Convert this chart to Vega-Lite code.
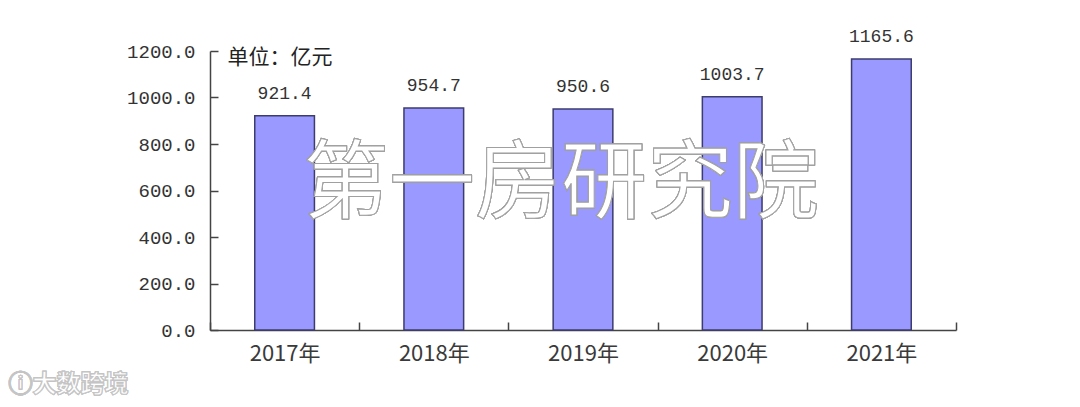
{
  "$schema": "https://vega.github.io/schema/vega-lite/v6.json",
  "width": 746,
  "height": 279,
  "autosize": {"type": "none"},
  "padding": {"left": 210, "top": 51, "right": 124, "bottom": 77},
  "background": "white",
  "config": {"view": {"stroke": null}},
  "data": {"values": [
    {"year": "2017年", "value": 921.4},
    {"year": "2018年", "value": 954.7},
    {"year": "2019年", "value": 950.6},
    {"year": "2020年", "value": 1003.7},
    {"year": "2021年", "value": 1165.6}
  ]},
  "encoding": {
    "x": {"field": "year", "type": "nominal", "sort": null,
      "scale": {"paddingInner": 0, "paddingOuter": 0},
      "axis": {"title": null, "labelAngle": 0, "labelFont": "Noto Sans CJK SC", "labelFontSize": 22, "labelColor": "#3a3a3a", "labelPadding": 21,
        "tickBand": "extent", "tickSize": -8, "tickColor": "#444", "tickWidth": 1.5, "domainColor": "#444", "domainWidth": 1.5, "grid": false}},
    "y": {"field": "value", "type": "quantitative",
      "scale": {"domain": [0, 1200], "nice": false},
      "axis": {"values": [0, 200, 400, 600, 800, 1000, 1200], "format": ".1f", "labelFont": "Liberation Mono", "labelFontSize": 19, "labelColor": "#333", "labelPadding": 23,
        "tickSize": -8, "tickColor": "#444", "tickWidth": 1.5, "domainColor": "#444", "domainWidth": 1.5, "grid": false,
        "title": "单位：亿元", "titleAngle": 0, "titleAlign": "left", "titleBaseline": "middle", "titleX": 17, "titleY": 6,
        "titleFont": "Noto Sans CJK SC", "titleFontSize": 21, "titleFontWeight": "normal", "titleColor": "#222"}}
  },
  "layer": [
    {"mark": {"type": "bar", "width": {"band": 0.4}, "fill": "#9999FF", "stroke": "#3c3c6e", "strokeWidth": 1.5}},
    {"mark": {"type": "text", "dy": -22, "font": "Liberation Mono", "fontSize": 18, "fill": "#333", "baseline": "middle"},
      "encoding": {"text": {"field": "value", "type": "quantitative", "format": ".1f"}}},
    {"mark": {"type": "text", "text": "第一房研究院", "font": "Noto Sans CJK SC", "fontSize": 86, "fill": "white", "stroke": "#a0a0a0", "strokeWidth": 1, "baseline": "middle", "align": "center", "dx": -22},
      "encoding": {"x": {"datum": "2019年"}, "y": {"datum": 620}}},
    {"mark": {"type": "text", "text": "ⓘ大数跨境", "font": "Noto Sans CJK SC", "fontSize": 24, "fontWeight": "bold", "fill": "white", "stroke": "#c4c4c4", "strokeWidth": 1, "baseline": "middle", "align": "left", "dx": -276},
      "encoding": {"x": {"datum": "2017年"}, "y": {"datum": -237}}}
  ]
}
